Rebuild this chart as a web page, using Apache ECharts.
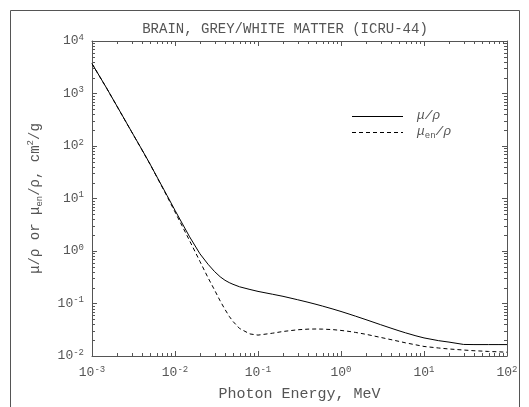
<!DOCTYPE html>
<html>
<head>
<meta charset="utf-8">
<script src="https://cdn.jsdelivr.net/npm/echarts@6/dist/echarts.min.js"></script>
<style>html,body{margin:0;padding:0;background:#fff}#c{width:529px;height:407px}</style>
</head>
<body>
<div id="c"></div>
<script>
// Photon energy, MeV
const energies = [0.001,0.0015,0.002,0.003,0.004,0.005,0.006,0.008,0.01,0.015,0.02,0.025,0.03,0.035,0.04,0.045,0.05,0.06,0.08,
  0.1,0.15,0.2,0.3,0.4,0.5,0.6,0.8,1,1.25,1.5,2,3,4,5,6,8,10,15,20,30,40,50,60,80,100];
// mu/rho, cm2/g
const muRho = [3706,1266,573.5,187,85,45.5,26.6,11.5,5.95,1.86,0.882,0.56,0.405,0.323,0.277,0.250,0.232,0.208,0.185,
  0.170,0.150,0.137,0.118,0.1057,0.0965,0.0892,0.0784,0.0705,0.0630,0.0573,0.0492,0.0395,0.0339,0.0302,0.0276,0.0242,0.0221,0.0196,0.0184,0.0166,0.0165,0.0165,0.0165,0.0165,0.0165];
// mu_en/rho, cm2/g
const muEnRho = [3692,1261,571,186,84,45,26.2,11.1,5.55,1.57,0.63,0.31,0.180,0.112,0.0772,0.057,0.0455,0.0334,0.0263,
  0.0250,0.0272,0.0293,0.0316,0.0325,0.0327,0.0325,0.0318,0.0307,0.0294,0.0281,0.0259,0.0226,0.0205,0.0190,0.0178,0.0163,0.0152,0.0142,0.0136,0.0130,0.0126,0.0124,0.0122,0.0120,0.0118];
const xMin = 1e-3, xMax = 1e2, yMin = 1e-2, yMax = 1e4;
const xMinorTicks = [], yMinorTicks = [];
for (let k = -3; k < 2; k++) for (let m = 2; m <= 9; m++) xMinorTicks.push(m * Math.pow(10, k));
for (let k = -2; k < 4; k++) for (let m = 2; m <= 9; m++) yMinorTicks.push(m * Math.pow(10, k));

const FONT = 'Liberation Mono';
const TXT = '#555';
const AX = '#555';
const rich = {
  b: {fontFamily: FONT, fontSize: 13, color: TXT, lineHeight: 16},
  s: {fontFamily: FONT, fontSize: 9, color: TXT, verticalAlign: 'top', lineHeight: 9}
};
function expLabel(v) {
  const e = Math.round(Math.log10(v));
  return '{b|10}{s|' + e + '}';
}
const chart = echarts.init(document.getElementById('c'), null, {renderer: 'canvas'});
const tickStyle = {show: true, inside: true, length: 5, lineStyle: {color: AX, width: 1}};
const axisLine = {show: true, onZero: false, lineStyle: {color: AX, width: 1}};

function minorX(params, api) {
  const xv = api.value(0);
  const pb = api.coord([xv, yMin]);
  const pt = api.coord([xv, yMax]);
  const x = Math.round(pb[0]) + 0.5;
  return {type: 'group', children: [
    {type: 'line', shape: {x1: x, y1: pb[1], x2: x, y2: pb[1] - 3}, style: {stroke: AX, lineWidth: 1}},
    {type: 'line', shape: {x1: x, y1: pt[1], x2: x, y2: pt[1] + 3}, style: {stroke: AX, lineWidth: 1}}
  ]};
}
function minorY(params, api) {
  const yv = api.value(1);
  const pl = api.coord([xMin, yv]);
  const pr = api.coord([xMax, yv]);
  const y = Math.round(pl[1]) + 0.5;
  return {type: 'group', children: [
    {type: 'line', shape: {x1: pl[0], y1: y, x2: pl[0] + 3, y2: y}, style: {stroke: AX, lineWidth: 1}},
    {type: 'line', shape: {x1: pr[0], y1: y, x2: pr[0] - 3, y2: y}, style: {stroke: AX, lineWidth: 1}}
  ]};
}

chart.setOption({
  animation: false,
  backgroundColor: '#fff',
  grid: {left: 92, right: 22, top: 41, bottom: 43, containLabel: false},
  xAxis: [{
    type: 'log', logBase: 10, min: xMin, max: xMax, position: 'bottom',
    axisLine: axisLine, axisTick: tickStyle, splitLine: {show: false},
    axisLabel: {formatter: expLabel, rich: rich, margin: 9},
    name: 'Photon Energy, MeV', nameLocation: 'middle', nameGap: 31,
    nameTextStyle: {fontFamily: FONT, fontSize: 15, color: TXT}
  }, {
    type: 'log', logBase: 10, min: xMin, max: xMax, position: 'top',
    axisLine: axisLine, axisTick: tickStyle, splitLine: {show: false}, axisLabel: {show: false}
  }],
  yAxis: [{
    type: 'log', logBase: 10, min: yMin, max: yMax, position: 'left',
    axisLine: axisLine, axisTick: tickStyle, splitLine: {show: false},
    axisLabel: {formatter: expLabel, rich: rich, margin: 8},
    name: '{t|μ/ρ or μ}{sub|en}{t|/ρ, cm}{sup|2}{t|/g}', nameLocation: 'middle', nameGap: 48, nameRotate: 90,
    nameTextStyle: {
      rich: {
        t: {fontFamily: FONT, fontSize: 14, color: TXT, lineHeight: 18},
        sub: {fontFamily: FONT, fontSize: 9, color: TXT, verticalAlign: 'bottom', lineHeight: 9},
        sup: {fontFamily: FONT, fontSize: 9, color: TXT, verticalAlign: 'top', lineHeight: 9}
      }
    }
  }, {
    type: 'log', logBase: 10, min: yMin, max: yMax, position: 'right',
    axisLine: axisLine, axisTick: tickStyle, splitLine: {show: false}, axisLabel: {show: false}
  }],
  graphic: [
    {type: 'rect', shape: {x: 10.5, y: 10.5, width: 509, height: 410}, style: {fill: 'none', stroke: '#555', lineWidth: 1}, silent: true},
    {type: 'text', x: 285, y: 29, style: {text: 'BRAIN, GREY/WHITE MATTER (ICRU-44)', fontFamily: FONT, fontSize: 14, fill: TXT, align: 'center', verticalAlign: 'middle'}},
    {type: 'line', shape: {x1: 352, y1: 116.5, x2: 403, y2: 116.5}, style: {stroke: '#000', lineWidth: 1}},
    {type: 'line', shape: {x1: 352, y1: 132.5, x2: 403, y2: 132.5}, style: {stroke: '#000', lineWidth: 1, lineDash: [4, 3]}},
    {type: 'text', x: 417, y: 116, style: {text: 'μ/ρ', fontFamily: FONT, fontSize: 13, fill: TXT, verticalAlign: 'middle', fontStyle: 'italic'}},
    {type: 'text', x: 417, y: 132, style: {
      text: '{t|μ}{sub|en}{t|/ρ}', verticalAlign: 'middle',
      rich: {
        t: {fontFamily: FONT, fontSize: 13, fill: TXT, fontStyle: 'italic', lineHeight: 16},
        sub: {fontFamily: FONT, fontSize: 9, fill: TXT, verticalAlign: 'bottom', lineHeight: 9}
      }
    }}
  ],
  series: [{
    type: 'line', xAxisIndex: 0, yAxisIndex: 0, symbol: 'none', smooth: false,
    data: energies.map((e, i) => [e, muRho[i]]),
    lineStyle: {color: '#000', width: 1}
  }, {
    type: 'line', xAxisIndex: 0, yAxisIndex: 0, symbol: 'none', smooth: false,
    data: energies.map((e, i) => [e, muEnRho[i]]),
    lineStyle: {color: '#000', width: 1, type: [4, 3]}
  }, {
    type: 'custom', xAxisIndex: 0, yAxisIndex: 0, renderItem: minorX, silent: true, clip: false,
    data: xMinorTicks.map(v => [v, yMin])
  }, {
    type: 'custom', xAxisIndex: 0, yAxisIndex: 0, renderItem: minorY, silent: true, clip: false,
    data: yMinorTicks.map(v => [xMin, v])
  }]
});
</script>
</body>
</html>
